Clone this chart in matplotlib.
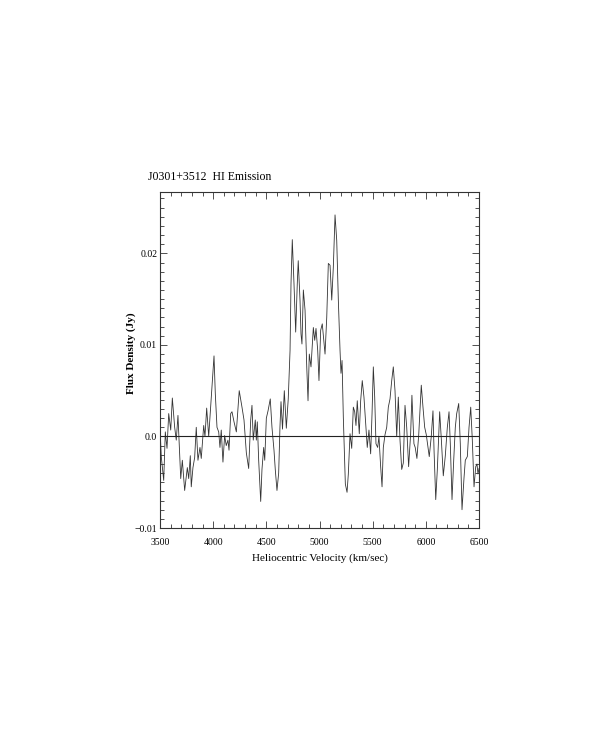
import numpy as np
import matplotlib
matplotlib.use('Agg')
import matplotlib.pyplot as plt
from matplotlib.ticker import MultipleLocator, FixedLocator

# spectrum: heliocentric velocity (km/s) and flux (mJy)
velocity = [3500, 3512, 3535, 3550, 3566, 3582, 3601, 3616, 3638, 3653,
            3669, 3695, 3710, 3732, 3757, 3770, 3785, 3794, 3810, 3826,
            3841, 3857, 3876, 3888, 3911, 3923, 3939, 3958, 3982, 4008,
            4020, 4036, 4052, 4064, 4076, 4092, 4108, 4123, 4139, 4149,
            4165, 4177, 4196, 4218, 4245, 4271, 4290, 4312, 4334, 4353,
            4365, 4377, 4396, 4406, 4415, 4428, 4447, 4459, 4475, 4485,
            4500, 4516, 4537, 4553, 4572, 4584, 4600, 4616, 4628, 4638,
            4652, 4669, 4688, 4706, 4723, 4732, 4744, 4760, 4776, 4791,
            4800, 4817, 4826, 4835, 4848, 4864, 4880, 4892, 4904, 4920,
            4942, 4955, 4967, 4983, 4995, 5011, 5026, 5052, 5068, 5083,
            5099, 5115, 5130, 5146, 5162, 5177, 5193, 5202, 5212, 5224,
            5233, 5243, 5259, 5271, 5287, 5303, 5318, 5331, 5343, 5355,
            5374, 5387, 5402, 5418, 5437, 5449, 5465, 5481, 5494, 5506,
            5519, 5531, 5547, 5559, 5575, 5588, 5600, 5616, 5632, 5647,
            5663, 5679, 5694, 5710, 5726, 5741, 5757, 5773, 5788, 5804,
            5820, 5838, 5857, 5869, 5888, 5900, 5916, 5933, 5957, 5973,
            5989, 6004, 6020, 6032, 6051, 6067, 6077, 6093, 6108, 6130,
            6146, 6164, 6183, 6202, 6218, 6230, 6246, 6262, 6277, 6290,
            6309, 6324, 6340, 6359, 6371, 6390, 6406, 6422, 6437, 6453,
            6469, 6481, 6490, 6500]
flux_mjy = [1.0, -2.2, -4.8, 0.5, -1.3, 2.5, 0.7, 4.2, 1.0, -0.4,
            2.3, -4.6, -2.6, -5.9, -3.4, -4.6, -2.1, -5.5, -3.4, -2.3,
            1.0, -2.6, -1.2, -2.4, 1.2, 0.0, 3.1, 0.0, 4.3, 8.8,
            4.7, 1.0, 0.5, -1.2, 0.7, -2.8, 0.1, -1.0, -0.4, -1.5,
            2.5, 2.7, 1.6, 0.5, 5.0, 3.2, 1.8, -1.8, -3.5, 1.8,
            3.4, -0.4, 1.8, -0.4, 1.6, -2.6, -7.1, -3.6, -1.2, -2.6,
            2.0, 2.8, 4.1, 1.0, -1.5, -3.6, -5.9, -4.0, 1.0, 3.8,
            0.8, 5.0, 0.9, 4.1, 9.4, 16.7, 21.5, 16.7, 11.4, 16.7,
            19.2, 14.8, 11.2, 10.1, 16.0, 13.8, 7.6, 3.9, 9.0, 7.6,
            11.9, 10.5, 11.8, 9.4, 6.1, 11.6, 12.3, 9.0, 13.0, 18.9,
            18.7, 14.9, 18.5, 24.2, 21.4, 14.9, 9.4, 6.9, 8.3, 2.1,
            -1.5, -5.2, -6.1, -4.1, 0.3, -1.3, 3.2, 2.7, 1.2, 3.9,
            0.3, 3.9, 6.1, 4.3, 1.0, -1.2, 0.7, -1.9, 2.5, 7.6,
            4.3, -0.8, -1.2, 0.0, -3.3, -5.5, -1.2, 0.2, 1.0, 3.2,
            4.1, 6.1, 7.6, 5.0, 0.0, 4.3, -0.4, -3.6, -2.9, 3.4,
            1.0, -3.3, 0.3, 4.5, -0.8, -1.2, -2.4, 0.2, 5.6, 3.2,
            1.0, 0.2, -1.2, -2.2, 0.0, 2.8, -1.5, -6.9, -3.6, 2.7,
            -0.4, -4.3, -2.1, 1.0, 2.7, -0.8, -6.9, -2.6, 1.0, 2.5,
            3.6, -0.8, -8.0, -4.5, -2.6, -2.2, 1.0, 3.2, -0.4, -5.5,
            -3.3, -3.0, -4.1, -3.5]

yticks = [-0.01, 0.0, 0.01, 0.02]
ytick_labels = ['\u22120.01', '0.0', '0.01', '0.02']
xticks = [3500, 4000, 4500, 5000, 5500, 6000, 6500]

flux = np.array(flux_mjy) / 1000.0

plt.rcParams['font.family'] = ['Liberation Serif', 'DejaVu Serif']

fig = plt.figure(figsize=(5.99, 7.36), dpi=100)
ax = fig.add_axes([0.2671, 0.2826, 0.5326, 0.4565])

ax.plot(velocity, flux, lw=0.6, color='#333333')
ax.axhline(0.0, lw=0.8, color='#222222')

ax.set_xlim(3500, 6500)
ax.set_ylim(-0.01, 0.0267)

ax.xaxis.set_major_locator(FixedLocator(xticks))
ax.xaxis.set_minor_locator(MultipleLocator(100))
ax.yaxis.set_major_locator(FixedLocator(yticks))
ax.set_yticklabels(ytick_labels)
ax.yaxis.set_minor_locator(MultipleLocator(0.001))

ax.tick_params(which='both', direction='in', top=True, right=True,
               width=0.6, color='#333333', labelsize=7, pad=2)
ax.tick_params(which='major', length=5)
ax.tick_params(which='minor', length=3)
ax.tick_params(axis='x', pad=7)
for s in ax.spines.values():
    s.set_linewidth(0.8)
    s.set_color('#333333')

ax.set_xlabel('Heliocentric Velocity (km/sec)', fontsize=8, labelpad=5)
ax.set_ylabel('Flux Density (Jy)', fontsize=8, fontweight='bold', labelpad=1)
ax.yaxis.set_label_coords(-0.075, 0.52)

fig.text(0.247, 0.7555, 'J0301+3512  HI Emission', fontsize=8.5,
         ha='left', va='baseline')

fig.savefig('out.png', dpi=100)
